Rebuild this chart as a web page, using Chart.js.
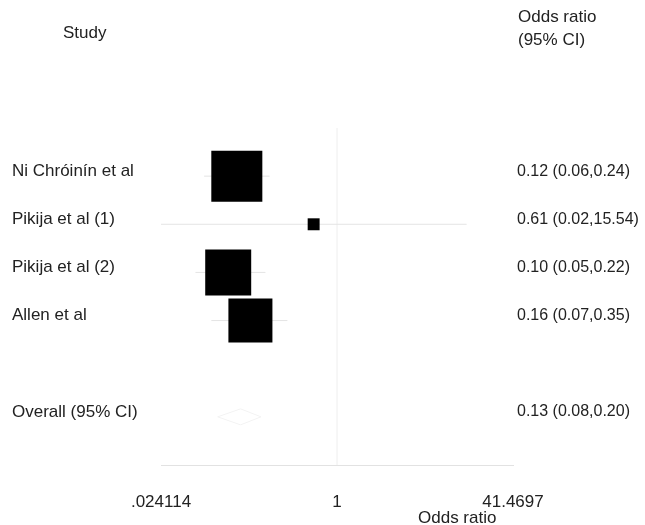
<!DOCTYPE html>
<html>
<head>
<meta charset="utf-8">
<script src="https://cdn.jsdelivr.net/npm/chart.js@4.4.1/dist/chart.umd.min.js"></script>
<style>
  html, body { margin: 0; background: #fff; }
  #wrap { width: 645px; height: 525px; }
</style>
</head>
<body>
<div id="wrap"><canvas id="forest"></canvas></div>
<script>
// study rows
const studyLabels = ["Ni Chróinín et al", "Pikija et al (1)", "Pikija et al (2)", "Allen et al"];
const oddsRatio = [0.12, 0.61, 0.10, 0.16];
const ciLow = [0.06, 0.02, 0.05, 0.07];
const ciHigh = [0.24, 15.54, 0.22, 0.35];
const studyWeight = [38.3, 2.1, 31.1, 28.5];

// pooled estimate
const overallLabel = "Overall (95% CI)";
const overallOR = 0.13;
const overallLow = 0.08;
const overallHigh = 0.20;

// x axis (log odds ratio)
const xTickValues = [0.024114, 1, 41.4697];
const xTickLabels = [".024114", "1", "41.4697"];

const studyRows = studyLabels.map((_, i) => i + 1);
const overallRow = studyLabels.length + 2;

const fmt = (v) => v.toFixed(2);
const ciText = (or, lo, hi) => `${fmt(or)} (${fmt(lo)},${fmt(hi)})`;

const leftLabel = (v) => (v === overallRow ? overallLabel : studyLabels[v - 1]);
const rightLabel = (v) =>
  v === overallRow
    ? ciText(overallOR, overallLow, overallHigh)
    : ciText(oddsRatio[v - 1], ciLow[v - 1], ciHigh[v - 1]);

const rowTicks = (scale) => {
  scale.ticks = [...studyRows, overallRow].map((v) => ({ value: v }));
};

Chart.defaults.font.family = '"Liberation Sans", Arial, sans-serif';
Chart.defaults.font.size = 17;
Chart.defaults.color = "#222";

// column headings, x axis title and the pooled diamond
const forestExtras = {
  id: "forestExtras",
  afterDatasetsDraw(chart) {
    const { ctx, scales } = chart;
    const x = scales.x;
    const y = scales.y;

    const yc = y.getPixelForValue(overallRow);
    const xl = x.getPixelForValue(overallLow);
    const xm = x.getPixelForValue(overallOR);
    const xr = x.getPixelForValue(overallHigh);
    ctx.save();
    ctx.strokeStyle = "#f3f3f3";
    ctx.beginPath();
    ctx.moveTo(xl, yc);
    ctx.lineTo(xm, yc - 8);
    ctx.lineTo(xr, yc);
    ctx.lineTo(xm, yc + 8);
    ctx.closePath();
    ctx.stroke();

    ctx.font = '17px "Liberation Sans", Arial, sans-serif';
    ctx.fillStyle = "#222";
    ctx.textBaseline = "middle";
    ctx.fillText("Study", 63, 33);
    const hx = scales.yRight.left + 5;
    ctx.fillText("Odds ratio", hx, 17);
    ctx.fillText("(95% CI)", hx, 40);
    ctx.fillText("Odds ratio", 418, 518);
    ctx.restore();
  },
};

new Chart(document.getElementById("forest").getContext("2d"), {
  type: "scatter",
  data: {
    datasets: [
      {
        // study boxes, area proportional to weight
        data: studyLabels.map((_, i) => ({ x: oddsRatio[i], y: studyRows[i] })),
        pointStyle: "rect",
        pointRadius: studyWeight.map((w) => 5.83 * Math.sqrt(w)),
        backgroundColor: "#000",
        borderWidth: 0,
      },
      ...studyLabels.map((_, i) => ({
        type: "line",
        data: [
          { x: ciLow[i], y: studyRows[i] },
          { x: ciHigh[i], y: studyRows[i] },
        ],
        borderColor: "#e4e4e4",
        borderWidth: 1,
        pointRadius: 0,
      })),
      {
        // line of no effect
        type: "line",
        data: [
          { x: 1, y: 0 },
          { x: 1, y: overallRow + 1 },
        ],
        borderColor: "#f5f5f5",
        borderWidth: 1,
        pointRadius: 0,
      },
    ],
  },
  options: {
    responsive: true,
    maintainAspectRatio: false,
    animation: false,
    layout: { padding: { top: 128, left: 12, right: 0, bottom: 0 } },
    plugins: {
      legend: { display: false },
      tooltip: { enabled: false },
    },
    scales: {
      x: {
        type: "logarithmic",
        min: xTickValues[0],
        max: xTickValues[xTickValues.length - 1],
        afterBuildTicks: (scale) => {
          scale.ticks = xTickValues.map((v) => ({ value: v }));
        },
        afterFit: (scale) => {
          scale.height = 60;
        },
        grid: { display: false, drawTicks: false },
        border: { display: true, color: "#e2e2e2" },
        ticks: {
          autoSkip: false,
          maxRotation: 0,
          padding: 27,
          callback: (v, i) => xTickLabels[i],
        },
      },
      y: {
        type: "linear",
        position: "left",
        reverse: true,
        min: 0,
        max: overallRow + 1,
        afterBuildTicks: rowTicks,
        afterFit: (scale) => {
          scale.width = 149;
        },
        grid: { display: false, drawTicks: false },
        border: { display: false },
        ticks: {
          crossAlign: "far",
          labelOffset: -5,
          callback: (v) => leftLabel(v),
        },
      },
      yRight: {
        type: "linear",
        position: "right",
        reverse: true,
        min: 0,
        max: overallRow + 1,
        afterBuildTicks: rowTicks,
        afterFit: (scale) => {
          scale.width = 132;
        },
        grid: { display: false, drawTicks: false },
        border: { display: false },
        ticks: {
          crossAlign: "near",
          padding: 4,
          labelOffset: -5,
          font: { size: 16 },
          callback: (v) => rightLabel(v),
        },
      },
    },
  },
  plugins: [forestExtras],
});
</script>
</body>
</html>
